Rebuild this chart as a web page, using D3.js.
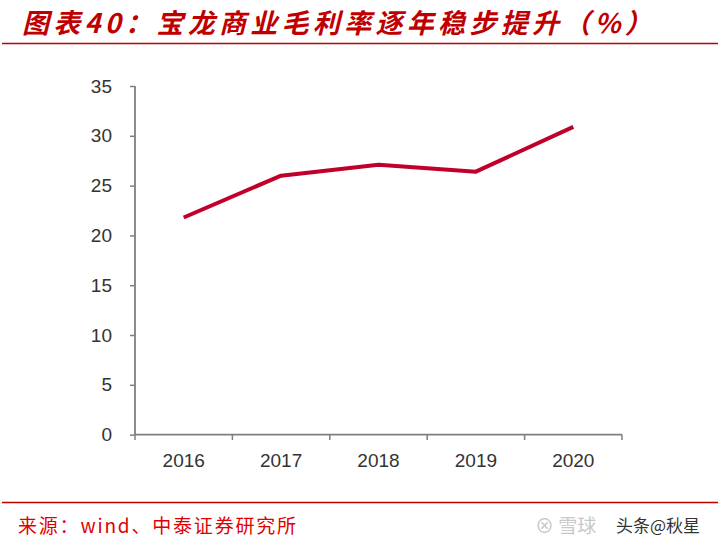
<!DOCTYPE html>
<html><head><meta charset="utf-8">
<script src="https://cdn.jsdelivr.net/npm/d3@7"></script>
<style>body{margin:0;background:#fff;}svg{display:block;}</style>
</head><body>
<svg id="c" width="727" height="552"></svg>
<script>
const years = ["2016","2017","2018","2019","2020"];
const margin = [21.8, 26.0, 27.1, 26.4, 30.9];
const yTicks = [0,5,10,15,20,25,30,35];
const titleText = "图表40：宝龙商业毛利率逐年稳步提升（%）";
const sourceText = "来源：wind、中泰证券研究所";

const svg = d3.select("#c");
const x = d3.scaleBand().domain(years).range([135, 622]);
const y = d3.scaleLinear().domain([0,35]).range([434.6, 86]);

// title
svg.append("text").attr("x", 22).attr("y", 33)
  .attr("font-family", "Noto Sans CJK SC").attr("font-weight", "bold").attr("font-style","italic")
  .attr("font-size", 27).attr("letter-spacing", 4.3).attr("fill", "#C00000").text(titleText);
svg.append("line").attr("x1",2).attr("x2",718).attr("y1",43.5).attr("y2",43.5)
  .attr("stroke","#C00000").attr("stroke-width",1.3);
svg.append("line").attr("x1",2).attr("x2",718).attr("y1",502.5).attr("y2",502.5)
  .attr("stroke","#C00000").attr("stroke-width",1.3);

// axes
const gy = svg.append("g").attr("transform","translate(135,0)")
  .call(d3.axisLeft(y).tickValues(yTicks).tickSize(5).tickPadding(18));
const gx = svg.append("g").attr("transform","translate(0,434.6)")
  .call(d3.axisBottom(x).tickSize(0).tickPadding(19));
// x ticks at band boundaries
svg.append("g").selectAll("line").data(years.concat(["end"])).join("line")
  .attr("x1",(d,i)=> i<years.length ? x(d) : x(years[years.length-1])+x.bandwidth())
  .attr("x2",(d,i)=> i<years.length ? x(d) : x(years[years.length-1])+x.bandwidth())
  .attr("y1",434.6).attr("y2",440).attr("stroke","#7f7f7f").attr("stroke-width",1.5);

[gx, gy].forEach(g=>{
  g.selectAll(".domain").attr("stroke","#7f7f7f").attr("stroke-width",1.8);
  g.selectAll(".tick line").attr("stroke","#7f7f7f").attr("stroke-width",1.5);
  g.selectAll("text").attr("font-family","Liberation Sans, Arial").attr("font-size",19).attr("fill","#333");
});
gy.select(".domain").attr("d","M0,86V434.6");
gx.select(".domain").attr("d","M135,0H622");

// line
const line = d3.line().x((d,i)=>x(years[i])+x.bandwidth()/2).y(d=>y(d));
svg.append("path").datum(margin).attr("d",line).attr("fill","none")
  .attr("stroke","#C0002A").attr("stroke-width",4).attr("stroke-linejoin","round");

// source
svg.append("text").attr("x",18).attr("y",533)
  .attr("font-family","Noto Sans CJK SC").attr("font-size",19).attr("letter-spacing",1.8)
  .attr("fill","#E00000").text(sourceText);
// watermark
svg.append("text").attr("x",535).attr("y",533)
  .attr("font-family","Noto Sans CJK SC").attr("font-size",19).attr("fill","#c8c8c8").text("⊗ 雪球");
svg.append("text").attr("x",616).attr("y",532)
  .attr("font-family","Noto Sans CJK SC").attr("font-size",17).attr("fill","#333").text("头条@秋星");
</script>
</body></html>
